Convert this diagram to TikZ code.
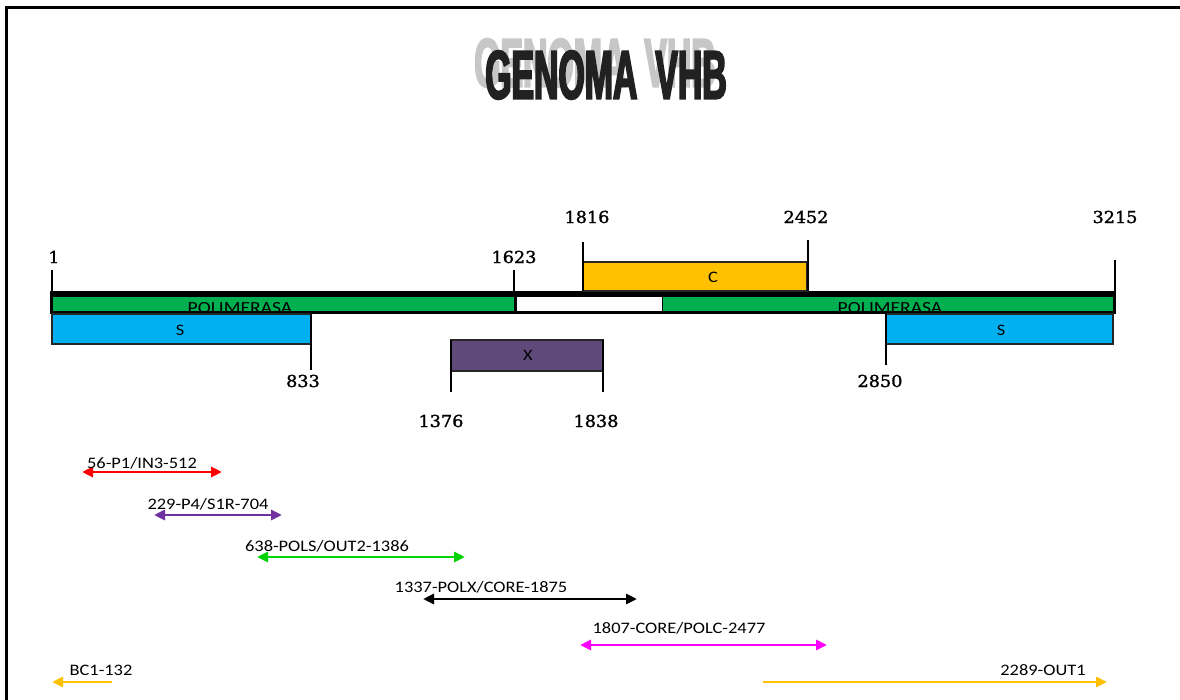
\documentclass[tikz,border=0pt]{standalone}
\usepackage{fontspec}
\usetikzlibrary{arrows.meta}
\newfontfamily\labfont[FakeStretch=1.15]{Carlito}
\newfontfamily\numfont[FakeStretch=1.07,FakeBold=1.5]{DejaVu Serif}
\newfontfamily\titlefont[FakeStretch=0.49,FakeBold=2.5]{Liberation Sans}
\definecolor{genegreen}{RGB}{0,176,80}
\definecolor{geneblue}{RGB}{0,176,240}
\definecolor{geneorange}{RGB}{255,192,0}
\definecolor{genepurple}{RGB}{95,73,122}
\definecolor{arrred}{RGB}{255,0,0}
\definecolor{arrpurple}{RGB}{112,48,160}
\definecolor{arrgreen}{RGB}{0,210,0}
\definecolor{arrmag}{RGB}{255,0,255}
\definecolor{arryel}{RGB}{255,192,0}
\tikzset{
  titletxt/.style={inner sep=0pt, font=\titlefont\bfseries\fontsize{69}{69}\selectfont},
  numtxt/.style={inner sep=0pt, font=\numfont\fontsize{16.5}{16.5}\selectfont},
  labtxt/.style={inner sep=0pt, font=\labfont\fontsize{16}{16}\selectfont},
  genetxt/.style={inner sep=0pt, font=\labfont\fontsize{16}{16}\selectfont},
  poltxt/.style={inner sep=0pt, font=\labfont\fontsize{17}{17}\selectfont},
  tick/.style={line width=2.3pt, black},
  barbox/.style={draw=black!85, line width=1.4pt},
  tipx/.tip={Triangle[length=11pt,width=10pt]},
  primer/.style={line width=2.8pt, tipx-tipx},
  single/.style={line width=2.8pt, -tipx},
}
\begin{document}
\begin{tikzpicture}[x=1pt,y=-1pt]
\useasboundingbox (0,0) rectangle (1180,700);
% frame
\draw[line width=3pt] (6,700) -- (6,8) -- (1180,8);
% title (grey shadow behind dark text)
\node[titletxt, text=black!22] (shadow) at (595,63) {GENOMA\hspace{18pt}VHB};
\node[titletxt, text=black!87] (title) at (606,75) {GENOMA\hspace{18pt}VHB};

% polymerase bar
\fill[black] (50,291) rectangle (1116,314);
\fill[genegreen] (53,297) rectangle (514,311.5);
\fill[white] (516.5,297) rectangle (661.5,311.5);
\fill[genegreen] (663,297) rectangle (1113,311.5);
\node[poltxt, anchor=base] (pol1) at (240,314) {POLIMERASA};
\node[poltxt, anchor=base] (pol2) at (890,314) {POLIMERASA};

% S bars
\draw[barbox, fill=geneblue] (52,314) rectangle (311,344);
\node[genetxt] (s1) at (180,330) {S};
\draw[barbox, fill=geneblue] (886,314) rectangle (1113,344);
\node[genetxt] (s2) at (1001,330) {S};

% C bar
\draw[barbox, fill=geneorange] (583,262) rectangle (807,291);
\node[genetxt] (c) at (713,277) {C};

% X bar
\draw[barbox, fill=genepurple] (451,340) rectangle (603,371);
\node[genetxt] (x) at (528,355) {X};

% ticks
\draw[tick] (52,270) -- (52,313);
\draw[tick] (514,270) -- (514,294);
\draw[tick] (583,242) -- (583,291);
\draw[tick] (808,240) -- (808,291);
\draw[tick] (1115,260) -- (1115,313);
\draw[tick] (311,313) -- (311,370);
\draw[tick] (886,313) -- (886,365);
\draw[tick] (451,340) -- (451,392);
\draw[tick] (603,340) -- (603,392);

% position numbers
\node[numtxt] (n1) at (54,257) {1};
\node[numtxt] (n1623) at (514,257) {1623};
\node[numtxt] (n1816) at (587,217) {1816};
\node[numtxt] (n2452) at (806,217) {2452};
\node[numtxt] (n3215) at (1115,217) {3215};
\node[numtxt] (n833) at (303,381) {833};
\node[numtxt] (n2850) at (880,381) {2850};
\node[numtxt] (n1376) at (441,421) {1376};
\node[numtxt] (n1838) at (596,421) {1838};

% primers
\coordinate (p1a) at (82,472); \coordinate (p1b) at (222,472);
\draw[primer, arrred] (p1a) -- (p1b);
\node[labtxt] (l1) at (142,463) {56-P1/IN3-512};

\coordinate (p2a) at (154,515); \coordinate (p2b) at (282,515);
\draw[primer, arrpurple] (p2a) -- (p2b);
\node[labtxt] (l2) at (208,504) {229-P4/S1R-704};

\coordinate (p3a) at (257,557); \coordinate (p3b) at (465,557);
\draw[primer, arrgreen] (p3a) -- (p3b);
\node[labtxt] (l3) at (327,546) {638-POLS/OUT2-1386};

\coordinate (p4a) at (423,599); \coordinate (p4b) at (637,599);
\draw[primer, black] (p4a) -- (p4b);
\node[labtxt] (l4) at (481,587) {1337-POLX/CORE-1875};

\coordinate (p5a) at (580,645); \coordinate (p5b) at (827,645);
\draw[primer, arrmag] (p5a) -- (p5b);
\node[labtxt] (l5) at (679,628) {1807-CORE/POLC-2477};

\coordinate (p6a) at (112,682); \coordinate (p6b) at (52,682);
\draw[single, arryel] (p6a) -- (p6b);
\node[labtxt] (l6) at (101,670) {BC1-132};

\coordinate (p7a) at (763,682); \coordinate (p7b) at (1107,682);
\draw[single, arryel] (p7a) -- (p7b);
\node[labtxt] (l7) at (1043,670) {2289-OUT1};
\end{tikzpicture}
\end{document}
